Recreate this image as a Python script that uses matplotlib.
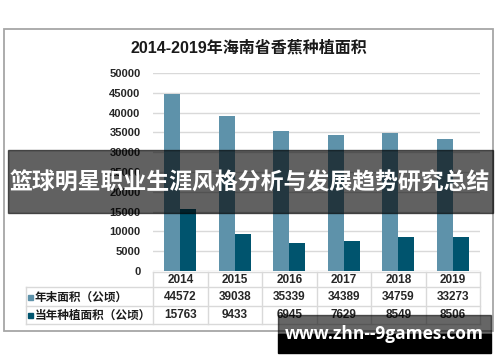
import matplotlib.pyplot as plt
from matplotlib.patches import Rectangle
from matplotlib.lines import Line2D

plt.rcParams['font.family'] = ['Liberation Sans', 'Noto Sans CJK SC', 'DejaVu Sans']

years = ['2014', '2015', '2016', '2017', '2018', '2019']
area_end = [44572, 39038, 35339, 34389, 34759, 33273]
area_new = [15763, 9433, 6945, 7629, 8549, 8506]
row_names = ['年末面积（公顷）', '当年种植面积（公顷）']
c_end = '#5e92aa'
c_new = '#00546e'

W, H = 500, 362


def fx(x):
    return x / W


def fy(y):
    return 1 - y / H


fig = plt.figure(figsize=(5, 3.62), dpi=100)

# outer frame
fig.patches.append(Rectangle((fx(4), fy(331)), fx(489), 302 / H, transform=fig.transFigure,
                             fill=False, edgecolor='#a6a6a6', linewidth=1.3))

fig.text(fx(249), fy(48), '2014-2019年海南省香蕉种植面积', ha='center', va='center',
         fontsize=11.5, fontweight='bold', color='#1a1a1a')

# chart
left, right, top, bottom = 153, 480, 73, 271
ax = fig.add_axes([fx(left), fy(bottom), (right - left) / W, (bottom - top) / H])
x = range(len(years))
w = 0.29
ax.bar([i - w / 2 for i in x], area_end, width=w, color=c_end, zorder=2)
ax.bar([i + w / 2 for i in x], area_new, width=w, color=c_new, zorder=2)
ax.set_xlim(-0.5, len(years) - 0.5)
ax.set_ylim(0, 50000)
ax.set_yticks(range(0, 50001, 5000))
ax.set_xticks([])
ax.grid(axis='y', color='#d9d9d9', linewidth=1, zorder=0)
for s in ax.spines.values():
    s.set_visible(False)
ax.tick_params(axis='y', length=0, pad=9, labelsize=8, labelcolor='#262626')
for t in ax.get_yticklabels():
    t.set_fontweight('bold')

# data table
col_w = (right - left) / len(years)
lc = '#d9d9d9'
row_y = [272, 287, 306, 324]
lines = [([left, right], [272, 272])]
for y in row_y[1:]:
    lines.append(([26, right], [y, y]))
lines.append(([26, 26], [287, 324]))
for i in range(len(years) + 1):
    xx = left + i * col_w
    lines.append(([xx, xx], [272, 324]))
for xs, ys in lines:
    fig.add_artist(Line2D([fx(v) for v in xs], [fy(v) for v in ys], color=lc,
                          linewidth=1, transform=fig.transFigure))

for i, yr in enumerate(years):
    cx = fx(left + (i + 0.5) * col_w)
    fig.text(cx, fy(280), yr, ha='center', va='center', fontsize=8.5, fontweight='bold', color='#262626')
    fig.text(cx, fy(297), str(area_end[i]), ha='center', va='center', fontsize=8.5,
             fontweight='bold', color='#262626')
    fig.text(cx, fy(315.5), str(area_new[i]), ha='center', va='center', fontsize=8.5,
             fontweight='bold', color='#262626')

for name, col, yc in zip(row_names, [c_end, c_new], [297, 315.5]):
    fig.patches.append(Rectangle((fx(28), fy(yc + 2.5)), 5 / W, 5 / H, transform=fig.transFigure,
                                 color=col))
    fig.text(fx(35), fy(yc), name, ha='left', va='center', fontsize=8.4, fontweight='bold',
             color='#1a1a1a', family=['Noto Sans CJK SC'])

# overlay banner
fig.patches.append(Rectangle((fx(8), fy(213)), fx(485), 63 / H, transform=fig.transFigure,
                             color='black', alpha=0.62, zorder=10))
fig.text(fx(250), fy(183), '篮球明星职业生涯风格分析与发展趋势研究总结', ha='center', va='center',
         fontsize=16.5, fontweight='bold', color='white', zorder=11)

# watermark
fig.patches.append(Rectangle((fx(278), fy(334)), fx(213), 19 / H, transform=fig.transFigure,
                             color='black', alpha=0.6, zorder=10))
fig.patches.append(Rectangle((fx(278), fy(353)), fx(213), 19 / H, transform=fig.transFigure,
                             color='black', zorder=10))
fig.text(fx(384), fy(334), 'www.zhn--9games.com', ha='center', va='center',
         fontsize=12.5, fontweight='bold', color='white', zorder=11,
         family=['Open Sans', 'DejaVu Sans'])

plt.savefig('out.png', dpi=100)
